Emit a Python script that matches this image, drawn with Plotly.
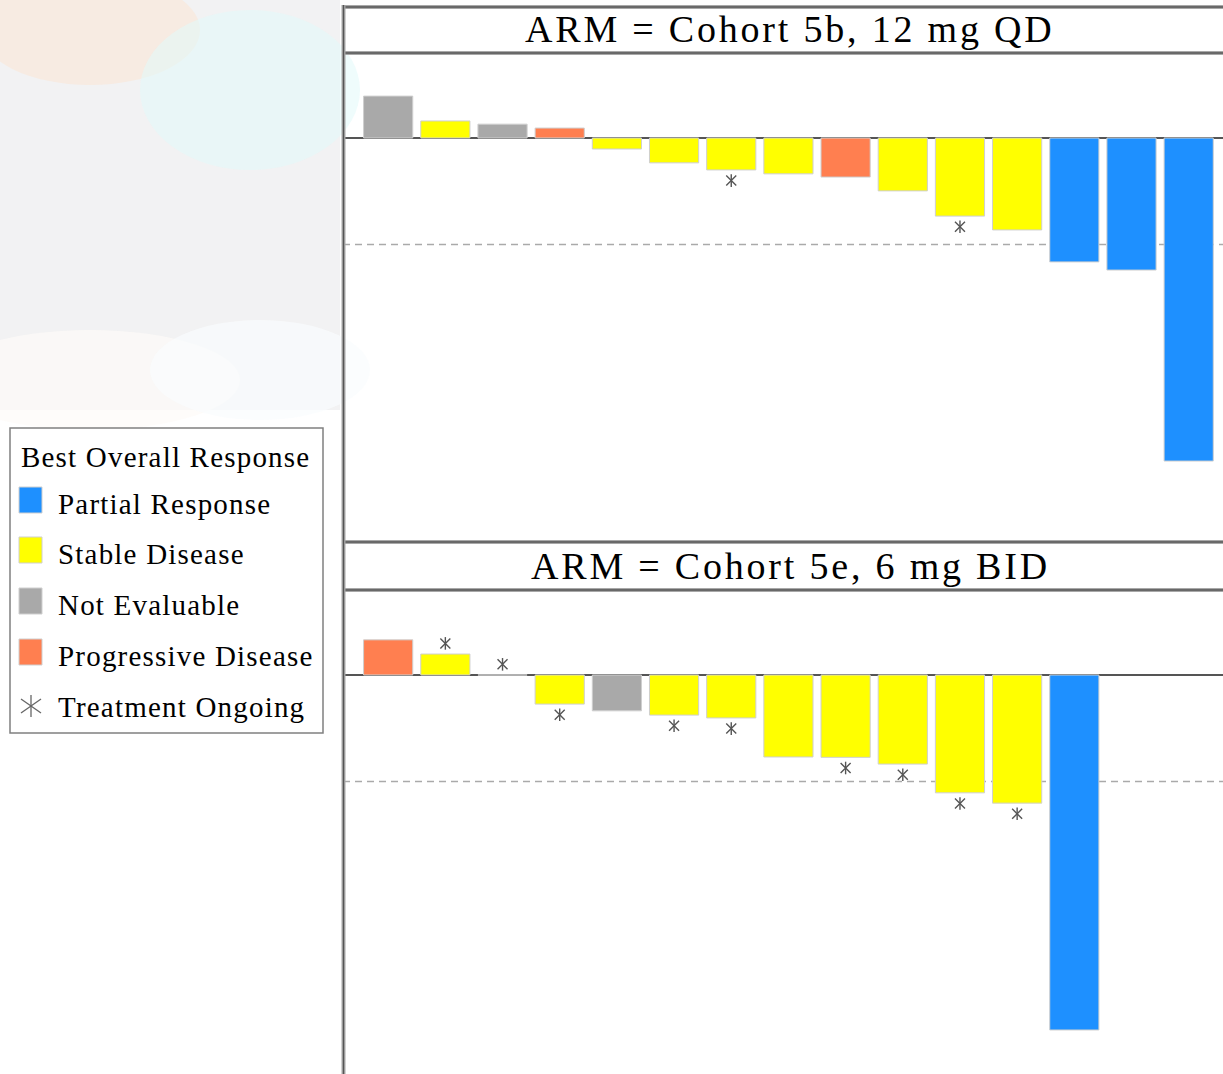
import plotly.graph_objects as go

W, H = 1223, 1074

# ---------------- data ----------------
categories = ["Partial Response", "Stable Disease", "Not Evaluable", "Progressive Disease"]
cat_codes = ["PR", "SD", "NE", "PD"]
cat_colors = ["#1E90FF", "#FFFF00", "#A9A9A9", "#FF7F50"]

panel_titles = ["ARM = Cohort 5b, 12 mg QD", "ARM = Cohort 5e, 6 mg BID"]

p1_values = [11.8, 4.8, 3.9, 2.8, -3.1, -7.0, -9.0, -10.1, -11.0, -14.9, -22.0, -25.9, -34.9, -37.2, -91.0]
p1_resp = ["NE", "SD", "NE", "PD", "SD", "SD", "SD", "SD", "PD", "SD", "SD", "SD", "PR", "PR", "PR"]
p1_ongoing = [0, 0, 0, 0, 0, 0, 1, 0, 0, 0, 1, 0, 0, 0, 0]

p2_values = [9.9, 5.9, 0.0, -8.2, -10.1, -11.3, -12.1, -23.1, -23.2, -25.1, -33.2, -36.1, -100.0]
p2_resp = ["PD", "SD", "SD", "SD", "NE", "SD", "SD", "SD", "SD", "SD", "SD", "SD", "PR"]
p2_ongoing = [0, 1, 1, 1, 0, 1, 1, 0, 1, 1, 1, 1, 0]

threshold = -30
star_offset = 3.0
bar_width = 0.86

# ---------------- helpers ----------------
def X(px):
    return px / W

def Y(py):
    return 1 - py / H

SERIF = "Liberation Serif, Times New Roman, serif"

fig = go.Figure()

panels = [
    (p1_values, p1_resp, p1_ongoing, "x", "y"),
    (p2_values, p2_resp, p2_ongoing, "x2", "y2"),
]

for vals, resp, ongoing, xa, ya in panels:
    for code, name, col in zip(cat_codes, categories, cat_colors):
        xs = [i for i, r in enumerate(resp) if r == code]
        ys = [vals[i] for i in xs]
        if not xs:
            continue
        fig.add_trace(go.Bar(
            x=xs, y=ys, name=name, xaxis=xa, yaxis=ya, width=bar_width,
            marker=dict(color=col, line=dict(color="#cfcfcf", width=1)),
            showlegend=False, hoverinfo="skip",
        ))
    sx = [i for i, o in enumerate(ongoing) if o]
    sy = [vals[i] - star_offset if vals[i] < 0 else vals[i] + star_offset for i in sx]
    for sym, sz in (("line-ns-open", 9), ("x-thin-open", 10)):
        fig.add_trace(go.Scatter(
            x=sx, y=sy, mode="markers", xaxis=xa, yaxis=ya,
            marker=dict(symbol=sym, size=sz, line=dict(color="#555555", width=1.4), color="#555555"),
            showlegend=False, hoverinfo="skip",
        ))

xr = [-0.79, 14.6]
xdom = [X(343), 1.0]
axis_common = dict(showticklabels=False, showgrid=False, ticks="", showline=False)

fig.update_layout(
    width=W, height=H,
    margin=dict(l=0, r=0, t=0, b=0),
    paper_bgcolor="white", plot_bgcolor="white",
    barmode="overlay",
    xaxis=dict(domain=xdom, range=xr, zeroline=False, anchor="y", **axis_common),
    yaxis=dict(domain=[Y(542), Y(54)], range=[-113.8, 23.66], zeroline=True,
               zerolinecolor="#555555", zerolinewidth=2, anchor="x", **axis_common),
    xaxis2=dict(domain=xdom, range=xr, zeroline=False, anchor="y2", **axis_common),
    yaxis2=dict(domain=[0, Y(590)], range=[-112.4, 23.94], zeroline=True,
                zerolinecolor="#555555", zerolinewidth=2, anchor="x2", **axis_common),
    font=dict(family=SERIF, color="black"),
)

shapes = []
# faint decorative background on upper left
shapes.append(dict(type="rect", xref="paper", yref="paper", x0=0, x1=X(340), y0=Y(410), y1=1,
                   fillcolor="#f2f2f3", line=dict(width=0), layer="below"))
for (cx, cy, rx, ry, colr) in [
    (90, 30, 110, 55, "rgba(255,226,200,0.40)"),
    (250, 90, 110, 80, "rgba(225,250,250,0.55)"),
    (90, 380, 150, 50, "rgba(253,251,248,0.7)"),
    (260, 370, 110, 50, "rgba(249,252,253,0.7)"),
]:
    shapes.append(dict(type="circle", xref="paper", yref="paper",
                       x0=X(cx - rx), x1=X(cx + rx), y0=Y(cy + ry), y1=Y(cy - ry),
                       fillcolor=colr, line=dict(width=0), layer="below"))

# dashed threshold lines
for ya in ("y", "y2"):
    xa = "x" if ya == "y" else "x2"
    shapes.append(dict(type="line", xref=f"{xa} domain", yref=ya, x0=0, x1=1, y0=threshold, y1=threshold,
                       line=dict(color="#aaaaaa", width=1.5, dash="7px,5px"), layer="below"))

# panel frame lines (double-line look)
def frame_line(x0, y0, x1, y1):
    shapes.append(dict(type="line", xref="paper", yref="paper", x0=X(x0), y0=Y(y0), x1=X(x1), y1=Y(y1),
                       line=dict(color="#a8a8a8", width=4)))
    shapes.append(dict(type="line", xref="paper", yref="paper", x0=X(x0), y0=Y(y0), x1=X(x1), y1=Y(y1),
                       line=dict(color="#555555", width=1.3)))

for yy in (7, 53, 542, 590):
    frame_line(343, yy, W + 5, yy)
frame_line(343.5, 5, 343.5, H + 5)

# legend box
shapes.append(dict(type="rect", xref="paper", yref="paper", x0=X(10), x1=X(323), y0=Y(733), y1=Y(428),
                   fillcolor="white", line=dict(color="#808080", width=1.5)))
leg_rows = [500, 550, 601, 652]
for ry, col in zip(leg_rows, cat_colors):
    shapes.append(dict(type="rect", xref="paper", yref="paper", x0=X(19), x1=X(42), y0=Y(ry + 13), y1=Y(ry - 13),
                       fillcolor=col, line=dict(color="#cfcfcf", width=1)))
# legend asterisk
ay = 706
for (x0, y0, x1, y1) in [(31, ay - 11, 31, ay + 11), (21, ay - 7, 41, ay + 7), (21, ay + 7, 41, ay - 7)]:
    shapes.append(dict(type="line", xref="paper", yref="paper", x0=X(x0), y0=Y(y0), x1=X(x1), y1=Y(y1),
                       line=dict(color="#666666", width=1.3)))

fig.update_layout(shapes=shapes)

ann = []
for title, cy in zip(panel_titles, (29, 566)):
    ann.append(dict(xref="paper", yref="paper", x=X(790), y=Y(cy), xanchor="center", yanchor="middle",
                    text=f'<span style="letter-spacing:2.8px">{title}</span>', showarrow=False,
                    font=dict(family=SERIF, size=38, color="black")))
ann.append(dict(xref="paper", yref="paper", x=X(19), y=Y(457), xanchor="left", yanchor="middle",
                text='<span style="letter-spacing:1.2px">Best Overall Response</span>', showarrow=False,
                font=dict(family=SERIF, size=29, color="black")))
for ry, name in zip(leg_rows + [703], categories + ["Treatment Ongoing"]):
    ann.append(dict(xref="paper", yref="paper", x=X(56), y=Y(ry + 4), xanchor="left", yanchor="middle",
                    text=f'<span style="letter-spacing:1.2px">{name}</span>', showarrow=False,
                    font=dict(family=SERIF, size=29, color="black")))
fig.update_layout(annotations=ann)

fig.write_html("out.html", config={"displayModeBar": False},
               post_script="document.body.style.margin='0px';")
